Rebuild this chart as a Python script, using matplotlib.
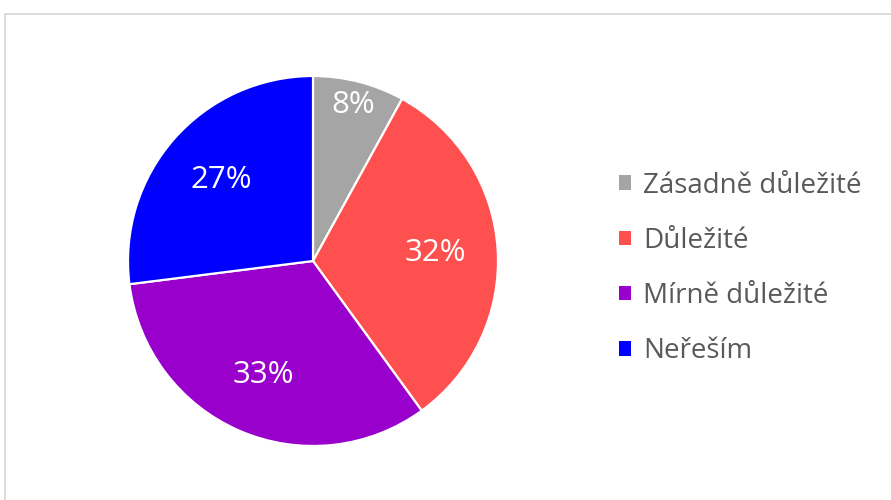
import matplotlib
matplotlib.use("Agg")
import matplotlib.pyplot as plt
import numpy as np
from matplotlib.patches import Patch, Rectangle

categories = ["Zásadně důležité", "Důležité", "Mírně důležité", "Neřeším"]
shares = [8, 32, 33, 27]
colors = ["#A5A5A5", "#FF5050", "#9900CC", "#0000FF"]
label_dist = [0.87, 0.66, 0.67, 0.66]

W, H = 891, 500
plt.rcParams["font.family"] = ["Open Sans", "DejaVu Sans"]

fig = plt.figure(figsize=(W / 100, H / 100), dpi=100)
fig.patch.set_facecolor("white")

# light chart-area frame, cut off at right and bottom like the source
fig.add_artist(Rectangle((4.5 / W, -0.1), 1.2, (H - 13.5) / H + 0.1,
                         transform=fig.transFigure, fill=False,
                         edgecolor="#D9D9D9", linewidth=1.3))

cx, cy, r = 313, 261, 185
ax = fig.add_axes([(cx - r) / W, (H - cy - r) / H, 2 * r / W, 2 * r / H])
wedges, _ = ax.pie(shares, colors=colors, startangle=90, counterclock=False,
                   radius=1.0, wedgeprops={"edgecolor": "white", "linewidth": 1.6})
ax.set_xlim(-1, 1)
ax.set_ylim(-1, 1)
ax.set_aspect("equal")
ax.axis("off")

total = sum(shares)
cum = np.cumsum([0] + shares)
for i, v in enumerate(shares):
    mid = (cum[i] + v / 2) / total * 2 * np.pi
    x = label_dist[i] * np.sin(mid)
    y = label_dist[i] * np.cos(mid)
    ax.text(x, y, f"{v}%", ha="center", va="center", color="white", fontsize=22.5)

handles = [Patch(facecolor=c, edgecolor="none") for c in colors]
fig.legend(handles, categories, loc="center left",
           bbox_to_anchor=(619 / W, (H - 268.5) / H), frameon=False,
           fontsize=20, labelcolor="#595959", handlelength=0.43, handleheight=0.43,
           handletextpad=0.43, labelspacing=0.98, borderpad=0, borderaxespad=0)

fig.savefig("out.png", dpi=100, facecolor="white")
